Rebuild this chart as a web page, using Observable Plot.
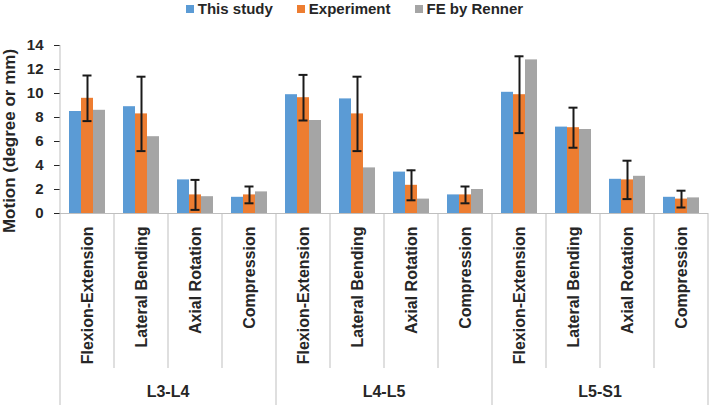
<!DOCTYPE html>
<html>
<head>
<meta charset="utf-8">
<script src="https://cdn.jsdelivr.net/npm/d3@7"></script>
<script src="https://cdn.jsdelivr.net/npm/@observablehq/plot@0.6"></script>
<style>
  html, body { margin: 0; padding: 0; background: #fff; }
  body { width: 709px; height: 405px; overflow: hidden; font-family: "Liberation Sans", Arial, sans-serif; }
  #legend { height: 17px; margin-bottom: 13px; display: flex; justify-content: center; align-items: center;
            font: bold 15px "Liberation Sans", Arial, sans-serif; color: #262626; }
  #legend .item { display: flex; align-items: center; margin: 0 12px; }
  #legend .sw { width: 8px; height: 8px; margin-right: 4px; }
  svg text { font-weight: bold; fill: #262626; }
  [aria-label^="y-axis"] text { font-size: 15px; }
  [aria-label^="fx-axis"] text { font-size: 16px; }
  g[aria-label="y-axis tick"] { stroke: #bfbfbf; }
</style>
</head>
<body>
<div id="legend"></div>
<div id="chart"></div>
<script>
// ---- data ----
const levels = ["L3-L4", "L4-L5", "L5-S1"];
const motions = ["Flexion-Extension", "Lateral Bending", "Axial Rotation", "Compression"];
const series = ["This study", "Experiment", "FE by Renner"];
const colors = ["#5B9BD5", "#ED7D31", "#A5A5A5"];
const yTicks = [0, 2, 4, 6, 8, 10, 12, 14];

// values in order L3-L4 (FE, LB, AR, C), L4-L5 (...), L5-S1 (...)
const thisStudy  = [8.5, 8.9, 2.8, 1.35,  9.9, 9.55, 3.45, 1.55,  10.1, 7.2, 2.85, 1.35];
const experiment = [9.6, 8.3, 1.55, 1.55, 9.65, 8.3, 2.35, 1.55,  9.9, 7.15, 2.8, 1.2];
const renner     = [8.6, 6.4, 1.4, 1.8,   7.75, 3.8, 1.2, 2.0,    12.8, 7.0, 3.1, 1.3];
const experimentSD = [1.9, 3.1, 1.25, 0.7, 1.9, 3.1, 1.25, 0.7,   3.2, 1.67, 1.6, 0.7];

// ---- build table ----
const keys = [];
levels.forEach(l => motions.forEach(m => keys.push(l + "|" + m)));
const valuesBySeries = [thisStudy, experiment, renner];
const rows = [];
keys.forEach((k, i) => series.forEach((s, j) => rows.push({key: k, series: s, value: valuesBySeries[j][i]})));
const errRows = keys.map((k, i) => ({key: k, series: "Experiment",
  low: experiment[i] - experimentSD[i], high: experiment[i] + experimentSD[i]}));

// ---- legend ----
const legend = d3.select("#legend");
series.forEach((s, i) => {
  const it = legend.append("div").attr("class", "item");
  it.append("div").attr("class", "sw").style("background", colors[i]);
  it.append("span").text(s);
});

// ---- chart ----
const chart = Plot.plot({
  width: 709,
  height: 375,
  marginTop: 15,
  marginBottom: 192,
  marginLeft: 60,
  marginRight: 1,
  style: {fontFamily: "'Liberation Sans', Arial, sans-serif", color: "#262626", background: "white"},
  fx: {domain: keys, padding: 0, axis: "bottom", tickRotate: -90, tickSize: 0, tickPadding: 13,
       tickFormat: k => k.split("|")[1], label: null},
  x: {domain: series, paddingInner: 0, paddingOuter: 0.75, axis: null},
  y: {domain: [0, 14], ticks: yTicks, tickSize: 6, tickPadding: 11, label: null},
  color: {domain: series, range: colors},
  marks: [
    Plot.barY(rows, {fx: "key", x: "series", y: "value", fill: "series", inset: 0}),
    Plot.ruleY([0], {stroke: "#bfbfbf", strokeWidth: 1}),
    Plot.ruleX(errRows, {fx: "key", x: "series", y1: "low", y2: "high", stroke: "#1a1a1a", strokeWidth: 2}),
    Plot.tickY(errRows, {fx: "key", x: "series", y: "low", stroke: "#1a1a1a", strokeWidth: 2, insetLeft: 1.5, insetRight: 1.5}),
    Plot.tickY(errRows, {fx: "key", x: "series", y: "high", stroke: "#1a1a1a", strokeWidth: 2, insetLeft: 1.5, insetRight: 1.5})
  ]
});
document.getElementById("chart").appendChild(chart);

// ---- axis decorations (category table lines, group labels, y title) ----
const svg = d3.select(chart);
const fx = chart.scale("fx");
const ys = chart.scale("y");
const y0 = ys.apply(0), yTop = ys.apply(14);
const bw = fx.bandwidth;
const H = 375;
const deco = svg.append("g").attr("stroke", "#bfbfbf").attr("stroke-width", 1);
// left value-axis line
const xLeft = fx.apply(keys[0]);
deco.append("line").attr("x1", xLeft).attr("x2", xLeft).attr("y1", yTop).attr("y2", y0);
keys.forEach((k, i) => {
  const x = fx.apply(k);
  const isGroup = i % motions.length === 0;
  deco.append("line").attr("x1", x).attr("x2", x).attr("y1", y0).attr("y2", isGroup ? H : y0 + 155);
});
const xEnd = fx.apply(keys[keys.length - 1]) + bw;
deco.append("line").attr("x1", xEnd).attr("x2", xEnd).attr("y1", y0).attr("y2", H);

levels.forEach((l, i) => {
  const xa = fx.apply(keys[i * motions.length]);
  const xb = fx.apply(keys[i * motions.length + motions.length - 1]) + bw;
  svg.append("text").attr("x", (xa + xb) / 2).attr("y", y0 + 184)
    .attr("text-anchor", "middle").style("font-size", "16px").text(l);
});

svg.append("text")
  .attr("transform", `translate(9,${(yTop + y0) / 2 + 12}) rotate(-90)`)
  .attr("text-anchor", "middle").attr("dominant-baseline", "central")
  .style("font-size", "17px").text("Motion (degree or mm)");
</script>
</body>
</html>
